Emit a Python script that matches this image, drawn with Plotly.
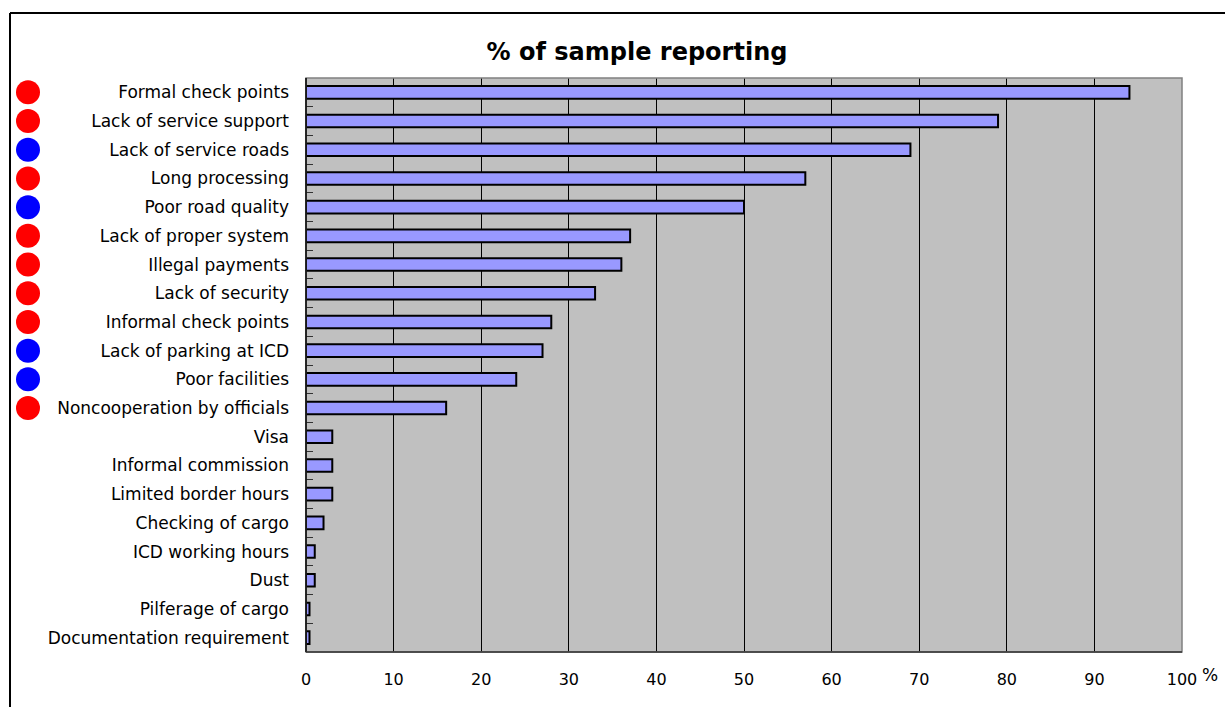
import plotly.graph_objects as go

categories = [
    "Formal check points", "Lack of service support", "Lack of service roads",
    "Long processing", "Poor road quality", "Lack of proper system",
    "Illegal payments", "Lack of security", "Informal check points",
    "Lack of parking at ICD", "Poor facilities", "Noncooperation by officials",
    "Visa", "Informal commission", "Limited border hours", "Checking of cargo",
    "ICD working hours", "Dust", "Pilferage of cargo", "Documentation requirement",
]
values = [94, 79, 69, 57, 50, 37, 36, 33, 28, 27, 24, 16, 3, 3, 3, 2, 1, 1, 0.4, 0.4]
marker_cats = categories[:12]
marker_colors = ["red", "red", "blue", "red", "blue", "red", "red", "red", "red", "blue", "blue", "red"]
x_ticks = [0, 10, 20, 30, 40, 50, 60, 70, 80, 90, 100]

FONT = "DejaVu Sans, sans-serif"
W, H = 1225, 707
ml, mr, mt, mb = 10, 43, 78, 55
pw = W - ml - mr
ph = H - mt - mb
x0dom = (306 - ml) / pw

fig = go.Figure()
fig.add_trace(go.Bar(
    y=categories, x=values, orientation="h", width=0.44,
    marker=dict(color="#9999FF", line=dict(color="black", width=2)),
    xaxis="x", yaxis="y", showlegend=False, hoverinfo="x+y",
))
fig.add_trace(go.Scatter(
    y=marker_cats, x=[0.5] * len(marker_cats), mode="markers",
    marker=dict(color=marker_colors, size=24, line=dict(width=0)),
    xaxis="x2", yaxis="y", showlegend=False, hoverinfo="y",
))

fig.update_layout(
    width=W, height=H,
    margin=dict(l=ml, r=mr, t=mt, b=mb, autoexpand=False),
    paper_bgcolor="white", plot_bgcolor="rgba(0,0,0,0)",
    font=dict(family=FONT, color="black"),
    title=dict(text="<b>% of sample reporting</b>", x=637 / W, xanchor="center",
               y=1 - 52 / H, yanchor="middle", font=dict(size=24, family=FONT, color="black")),
    xaxis=dict(
        domain=[x0dom, 1], range=[0, 100], tickvals=x_ticks, ticktext=[str(v) for v in x_ticks],
        showgrid=True, gridcolor="black", gridwidth=1, zeroline=False, automargin=False,
        showline=False, ticks="outside", ticklen=13, tickcolor="rgba(0,0,0,0)",
        tickfont=dict(size=16, family=FONT, color="black"), fixedrange=True,
    ),
    xaxis2=dict(domain=[0, 36 / pw], range=[0, 1], visible=False, anchor="y", fixedrange=True),
    yaxis=dict(
        type="category", categoryorder="array", categoryarray=categories,
        range=[len(categories) - 0.5, -0.5], automargin=False,
        showgrid=False, showline=False, zeroline=False,
        ticks="inside", ticklen=7, tickcolor="#333333", tickson="boundaries",
        ticklabelstandoff=16,
        tickfont=dict(size=17, family=FONT, color="black"), anchor="x", fixedrange=True,
    ),
    shapes=[
        dict(type="rect", xref="x domain", yref="y domain", x0=0, x1=1, y0=0, y1=1,
             fillcolor="#C0C0C0", line=dict(width=0), layer="below"),
        dict(type="rect", xref="x domain", yref="y domain", x0=0, x1=1, y0=0, y1=1,
             line=dict(color="#808080", width=1.5), layer="above"),
        dict(type="line", xref="x domain", yref="y domain", x0=0, x1=0, y0=0, y1=1,
             line=dict(color="black", width=1.5), layer="above"),
        dict(type="line", xref="x domain", yref="y domain", x0=0, x1=1, y0=0, y1=0,
             line=dict(color="#333333", width=1.5), layer="above"),
        dict(type="line", xref="paper", yref="paper", x0=0, x1=0,
             y0=-(H - 652) / ph - 0.01, y1=1 + (78 - 13) / ph,
             line=dict(color="black", width=2)),
        dict(type="line", xref="paper", yref="paper", x0=0, x1=1 + 50 / pw,
             y0=1 + (78 - 13) / ph, y1=1 + (78 - 13) / ph,
             line=dict(color="black", width=2)),
    ],
    annotations=[
        dict(text="%", xref="paper", yref="paper", x=(1210 - ml) / pw, y=-(675 - 652) / ph,
             xanchor="center", yanchor="middle", showarrow=False,
             font=dict(size=17, family=FONT, color="black")),
    ],
)

fig.write_html("out.html")
